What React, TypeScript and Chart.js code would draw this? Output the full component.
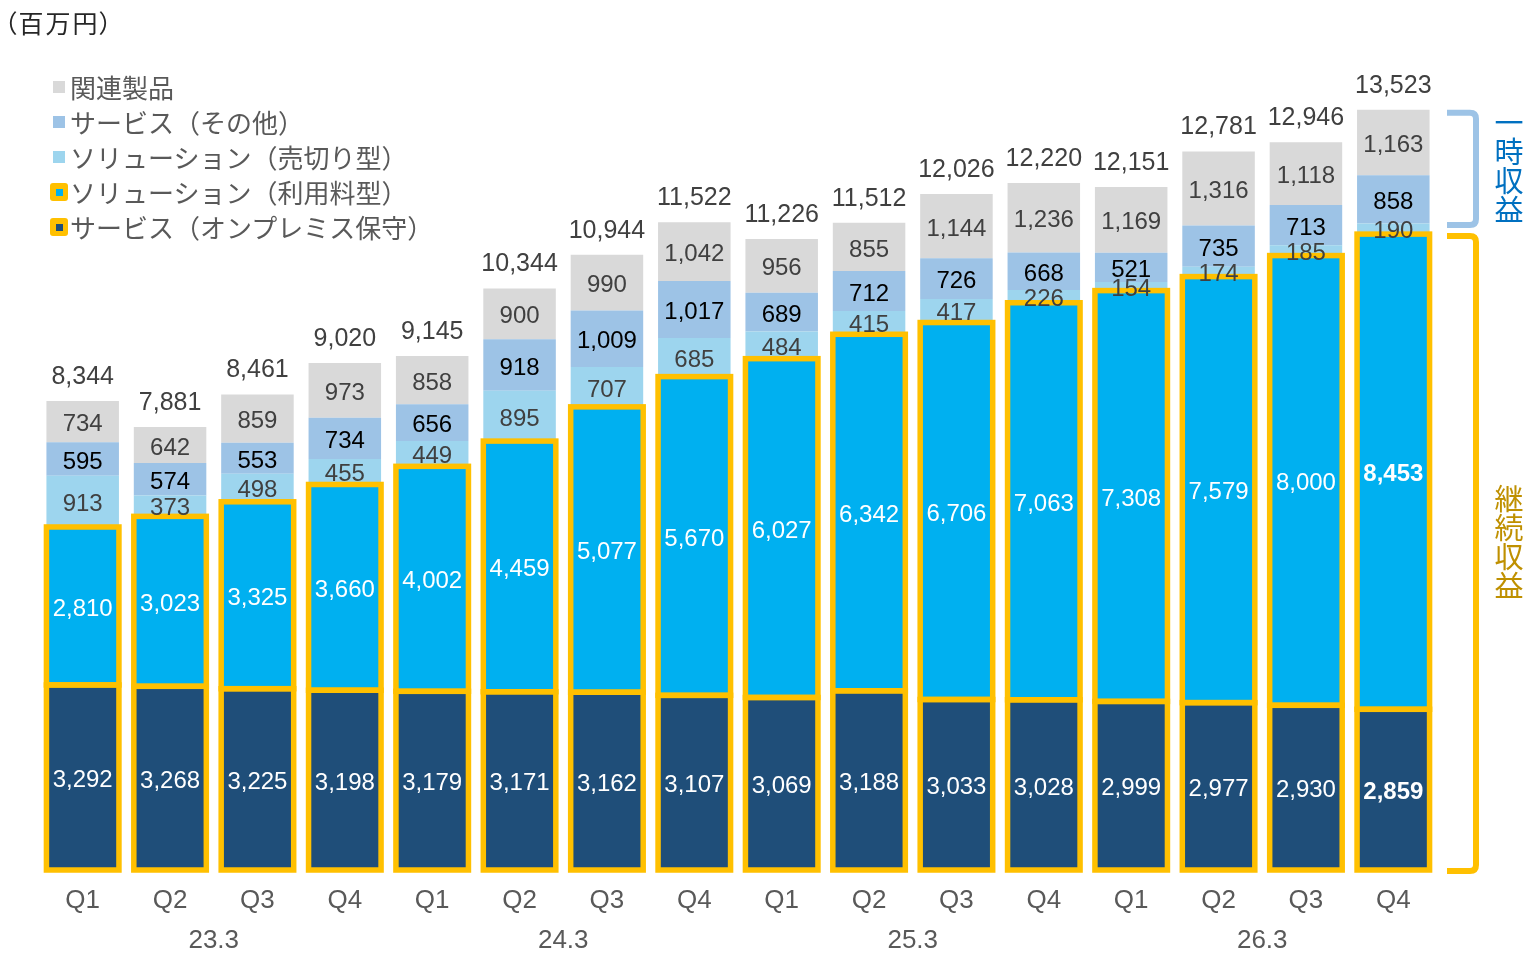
import React, { useEffect, useRef } from "react";
import { Chart, registerables } from "chart.js";

Chart.register(...registerables);

// ---- data ----
const quarterLabels = ["Q1", "Q2", "Q3", "Q4", "Q1", "Q2", "Q3", "Q4", "Q1", "Q2", "Q3", "Q4", "Q1", "Q2", "Q3", "Q4"];
const fiscalYears = ["23.3", "24.3", "25.3", "26.3"];

const maintenance = [3292, 3268, 3225, 3198, 3179, 3171, 3162, 3107, 3069, 3188, 3033, 3028, 2999, 2977, 2930, 2859];
const usageBased = [2810, 3023, 3325, 3660, 4002, 4459, 5077, 5670, 6027, 6342, 6706, 7063, 7308, 7579, 8000, 8453];
const outright = [913, 373, 498, 455, 449, 895, 707, 685, 484, 415, 417, 226, 154, 174, 185, 190];
const serviceOther = [595, 574, 553, 734, 656, 918, 1009, 1017, 689, 712, 726, 668, 521, 735, 713, 858];
const relatedProducts = [734, 642, 859, 973, 858, 900, 990, 1042, 956, 855, 1144, 1236, 1169, 1316, 1118, 1163];
const totals = [8344, 7881, 8461, 9020, 9145, 10344, 10944, 11522, 11226, 11512, 12026, 12220, 12151, 12781, 12946, 13523];

const seriesNames = [
  "サービス（オンプレミス保守）",
  "ソリューション（利用料型）",
  "ソリューション（売切り型）",
  "サービス（その他）",
  "関連製品",
];

const fillColors = ["#1F4E79", "#00B0F0", "#9DD5EE", "#9DC3E6", "#D9D9D9"];
const labelColors = ["#FFFFFF", "#FFFFFF", "#404040", "#000000", "#404040"];
const GOLD = "#FFC000";
const NUM_FONT = '"Liberation Sans", Arial, sans-serif';
const JP_FONT = '"Noto Sans CJK JP", "Noto Sans", sans-serif';

const fmt = (v: number) => v.toLocaleString("en-US");

const overlayPlugin = {
  id: "overlay",
  afterDatasetsDraw(chart: any) {
    const ctx = chart.ctx as CanvasRenderingContext2D;
    const xScale = chart.scales.x;
    const n = quarterLabels.length;

    // gold borders around the recurring segments
    ctx.save();
    ctx.strokeStyle = GOLD;
    ctx.lineWidth = 5.5;
    ctx.lineJoin = "miter";
    for (const di of [0, 1]) {
      const meta = chart.getDatasetMeta(di);
      meta.data.forEach((el: any) => {
        const p = el.getProps(["x", "y", "base", "width"], true);
        ctx.strokeRect(p.x - p.width / 2, p.y, p.width, p.base - p.y);
      });
    }
    ctx.restore();

    // segment labels
    ctx.save();
    ctx.textAlign = "center";
    ctx.textBaseline = "middle";
    const dsArr = chart.data.datasets;
    dsArr.forEach((ds: any, di: number) => {
      const meta = chart.getDatasetMeta(di);
      meta.data.forEach((el: any, i: number) => {
        const p = el.getProps(["x", "y", "base"], true);
        const bold = i === n - 1 && di <= 1;
        ctx.font = `${bold ? "bold " : ""}24px ${NUM_FONT}`;
        ctx.fillStyle = labelColors[di];
        ctx.fillText(fmt(ds.data[i]), p.x, (p.y + p.base) / 2 + 3);
      });
    });

    // totals
    const topMeta = chart.getDatasetMeta(dsArr.length - 1);
    ctx.font = `25px ${NUM_FONT}`;
    ctx.fillStyle = "#404040";
    topMeta.data.forEach((el: any, i: number) => {
      const p = el.getProps(["x", "y"], true);
      ctx.fillText(fmt(totals[i]), p.x, p.y - 24);
    });

    // fiscal year labels
    ctx.font = `26px ${NUM_FONT}`;
    ctx.fillStyle = "#595959";
    fiscalYears.forEach((fy, g) => {
      const x = (xScale.getPixelForValue(g * 4 + 1) + xScale.getPixelForValue(g * 4 + 2)) / 2;
      ctx.fillText(fy, x, 941);
    });

    // brackets for the last bar
    const last = n - 1;
    const pTop = chart.getDatasetMeta(4).data[last].getProps(["y"], true).y;
    const pUse = chart.getDatasetMeta(1).data[last].getProps(["y", "base"], true).y;
    const pBase = chart.getDatasetMeta(0).data[last].getProps(["base"], true).base;
    const x0 = chart.chartArea.right + 10;
    const x1 = x0 + 29;
    const bracket = (top: number, bottom: number, color: string) => {
      ctx.beginPath();
      ctx.strokeStyle = color;
      ctx.lineWidth = 6;
      ctx.lineJoin = "round";
      ctx.lineCap = "butt";
      ctx.moveTo(x0, top);
      ctx.lineTo(x1 - 6, top);
      ctx.quadraticCurveTo(x1, top, x1, top + 6);
      ctx.lineTo(x1, bottom - 6);
      ctx.quadraticCurveTo(x1, bottom, x1 - 6, bottom);
      ctx.lineTo(x0, bottom);
      ctx.stroke();
    };
    bracket(pTop + 3, pUse - 9, "#9DC3E6");
    bracket(pUse + 2, pBase + 1, GOLD);

    const vText = (text: string, cx: number, cy: number, color: string) => {
      ctx.font = `29px ${JP_FONT}`;
      ctx.fillStyle = color;
      const chars = Array.from(text);
      const step = 29;
      const start = cy - ((chars.length - 1) * step) / 2;
      chars.forEach((c, k) => ctx.fillText(c, cx, start + k * step));
    };
    vText("一時収益", 1509, 166, "#0070C0");
    vText("継続収益", 1509, 542, "#BF9000");
    ctx.restore();
  },
};

export default function App() {
  const canvasRef = useRef<HTMLCanvasElement | null>(null);

  useEffect(() => {
    const canvas = canvasRef.current;
    if (!canvas) return;
    const sources = [maintenance, usageBased, outright, serviceOther, relatedProducts];
    const chart = new Chart(canvas, {
      type: "bar",
      data: {
        labels: quarterLabels,
        datasets: sources.map((d, i) => ({
          label: seriesNames[i],
          data: d,
          backgroundColor: fillColors[i],
          borderWidth: 0,
          barPercentage: 0.83,
          categoryPercentage: 1,
        })),
      },
      options: {
        responsive: false,
        animation: false,
        layout: { padding: { left: 39, right: 90, top: 83, bottom: 0 } },
        plugins: { legend: { display: false }, tooltip: { enabled: false } },
        scales: {
          x: {
            stacked: true,
            grid: { display: false, drawTicks: false },
            border: { display: false },
            ticks: {
              color: "#595959",
              font: { size: 26, family: NUM_FONT },
              padding: 15,
            },
            afterFit: (scale: any) => {
              scale.height = 83;
            },
          },
          y: {
            stacked: true,
            display: false,
            min: 0,
            max: 14000,
          },
        },
      },
      plugins: [overlayPlugin],
    });
    return () => chart.destroy();
  }, []);

  const legendRows = [
    { name: seriesNames[4], color: fillColors[4], gold: false },
    { name: seriesNames[3], color: fillColors[3], gold: false },
    { name: seriesNames[2], color: fillColors[2], gold: false },
    { name: seriesNames[1], color: fillColors[1], gold: true },
    { name: seriesNames[0], color: fillColors[0], gold: true },
  ];
  const rowY = [87, 122, 157, 192, 227];

  return (
    <div style={{ position: "absolute", left: 0, top: 0, width: 1527, height: 953, background: "#fff" }}>
      <canvas ref={canvasRef} width={1527} height={953} style={{ position: "absolute", left: 0, top: 0 }} />
      <div
        style={{
          position: "absolute",
          left: 4,
          top: 5,
          fontFamily: JP_FONT,
          fontSize: 25,
          lineHeight: "34px",
          color: "#262626",
          whiteSpace: "nowrap",
          letterSpacing: "2px",
          fontFeatureSettings: '"palt"',
        }}
      >
        （百万円）
      </div>
      {legendRows.map((r, i) => (
        <div
          key={i}
          style={{
            position: "absolute",
            left: 50,
            top: rowY[i] - 18,
            height: 36,
            display: "flex",
            alignItems: "center",
            whiteSpace: "nowrap",
          }}
        >
          <div style={{ width: 18, display: "flex", justifyContent: "center", alignItems: "center" }}>
            {r.gold ? (
              <div
                style={{
                  width: 18,
                  height: 18,
                  background: GOLD,
                  borderRadius: 3,
                  display: "flex",
                  justifyContent: "center",
                  alignItems: "center",
                }}
              >
                <div style={{ width: 7, height: 7, background: r.color }} />
              </div>
            ) : (
              <div style={{ width: 12, height: 12, background: r.color }} />
            )}
          </div>
          <span
            style={{
              marginLeft: 2,
              fontFamily: JP_FONT,
              fontSize: 26,
              color: "#595959",
              lineHeight: "36px",
            }}
          >
            {r.name}
          </span>
        </div>
      ))}
    </div>
  );
}
